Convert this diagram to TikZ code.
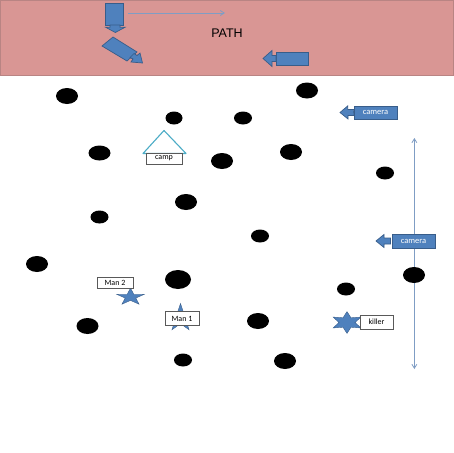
\documentclass[tikz,border=0pt]{standalone}
\usepackage{fontspec}
\setmainfont{Carlito}
\newfontfamily\bandfont{Liberation Sans}
\usetikzlibrary{shapes.geometric,arrows.meta}
\definecolor{pathred}{HTML}{D99694}
\definecolor{pathedge}{HTML}{B98483}
\definecolor{shapeblue}{HTML}{4F81BD}
\definecolor{shapeedge}{HTML}{385D8A}
\definecolor{arrowblue}{HTML}{7F9DC4}
\definecolor{campteal}{HTML}{4BACC6}
\tikzset{
  blob/.style={draw=none,fill=black,ellipse,inner sep=0pt,minimum width=#1},
  bluepoly/.style={fill=shapeblue,draw=shapeedge,line width=0.7pt,line join=miter},
  label box/.style={draw=black!65,fill=white,line width=0.5pt,inner sep=0pt,font=\fontsize{8}{9}\selectfont},
  cam label/.style={fill=shapeblue,draw=shapeedge,line width=0.7pt,inner sep=0pt,text=white,font=\fontsize{8.5}{9}\selectfont},
  span arrow/.style={draw=arrowblue,line width=0.8pt,-{Straight Barb[length=4pt,width=5pt]}},
  star mark/.style={star,fill=shapeblue,draw=shapeedge,line width=0.4pt,inner sep=0pt,transform shape}
}
\begin{document}
\begin{tikzpicture}[x=1pt,y=-1pt]
\useasboundingbox (0,0) rectangle (453,453);
\fill[white] (0,0) rectangle (453,453);
\node[draw=pathedge,fill=pathred,line width=0.8pt,minimum width=453pt,minimum height=75pt,inner sep=0pt,anchor=north west] (pathband) at (0,0) {};
\node[font=\fontsize{12.5}{14}\bandfont] (pathlabel) at (227,33) {PATH};
% motion arrows
\coordinate (a1) at (128,13);
\coordinate (a2) at (225,13);
\draw[span arrow] (a1) -- (a2);
\coordinate (a3) at (414.4,369);
\coordinate (a4) at (414.4,138);
\draw[span arrow,{Straight Barb[length=4pt,width=5pt]}-{Straight Barb[length=4pt,width=5pt]}] (a3) -- (a4);
% blue arrows in band
\draw[bluepoly] (105,3) rectangle (123,25);
\draw[bluepoly] (110,25) -- (120,25) -- (120,27.3) -- (125,27.3) -- (115.3,32.5) -- (105.7,27.3) -- (110,27.3) -- cycle;
\draw[bluepoly] (102,46) -- (113,37) -- (137,52) -- (127,61) -- cycle;
\draw[bluepoly] (134,53.5) -- (137,55.5) -- (140,53) -- (142.5,63) -- (131,62) -- (133,59) -- (130,57.5) -- cycle;
\draw[bluepoly] (276,52) rectangle (308,65);
\draw[bluepoly] (276,55.5) -- (272,55.5) -- (272,50.5) -- (263,58.5) -- (272,66.5) -- (272,61.5) -- (276,61.5) -- cycle;
% cameras
\node[cam label,minimum width=43pt,minimum height=13pt] (cam1) at (375.5,112.5) {camera};
\draw[bluepoly] (cam1.west) ++(0,-3) -- ++(-6,0) -- ++(0,-3.5) -- (340,112.5) -- (348,119) -- (348,115.5) -- (354,115.5) -- cycle;
\node[cam label,minimum width=43pt,minimum height=14pt] (cam2) at (413.5,241) {camera};
\draw[bluepoly] (390.5,238) -- (384,238) -- (384,234.5) -- (376,241) -- (384,247.5) -- (384,244) -- (390.5,244) -- cycle;
% obstacles
\foreach \n/\x/\y/\w/\h in {
 b1/67/96/22/16, b2/174/118/17/13, b3/243/118/18/13, b4/307/90.5/22/16,
 b5/99.5/153/22/15, b6/222/161/22/16, b7/291/152/22/16, b8/385/173/18/13,
 b9/186/202/22/16, b10/99.5/217/18/13, b11/260/236/18/13, b12/37/264/22/16,
 b13/178/279.5/26/19, b14/414/275/22/16, b15/346/289/18/13, b16/87.5/326/22/16,
 b17/258/321/22/16, b18/183/360/18/13, b19/285/361/22/16}{
  \node[blob=\w pt,minimum height=\h pt] (\n) at (\x,\y) {};
}
% camp
\draw[campteal,line width=1.1pt,line join=round] (143,153.5) -- (164,130.5) -- (186,153.5) -- cycle;
\node[label box,minimum width=36pt,minimum height=11pt] (camp) at (164,158.5) {camp};
% people
\begin{scope}[shift={(130.5,297)},yscale=.61]
\node[star mark,star points=5,star point ratio=2.6,minimum size=29pt] (man2star) at (0,0) {};
\end{scope}
\node[label box,minimum width=36pt,minimum height=11.5pt] (man2) at (115,282.5) {Man 2};
\node[star mark,star points=5,star point ratio=2.6,minimum size=29pt] (man1star) at (180.5,318) {};
\node[label box,minimum width=34pt,minimum height=14pt] (man1) at (182,318.5) {Man 1};
\begin{scope}[shift={(347,322.5)},yscale=.68]
\node[star mark,star points=6,star point ratio=2,minimum size=32pt] (killerstar) at (0,0) {};
\end{scope}
\node[label box,minimum width=33pt,minimum height=14pt] (killer) at (376.5,322) {killer};
\end{tikzpicture}
\end{document}
